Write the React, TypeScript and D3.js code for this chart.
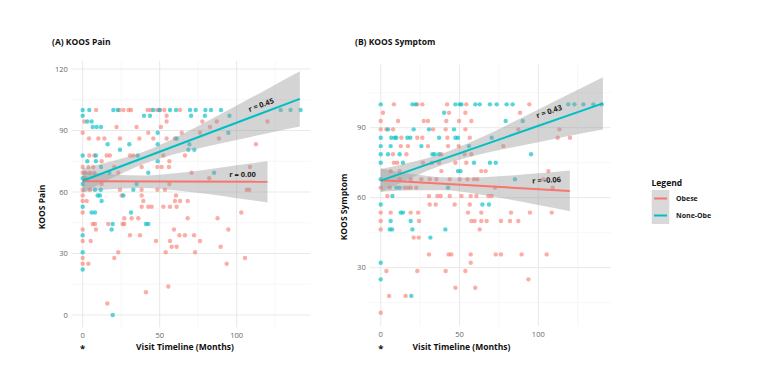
import React from 'react';
import * as d3 from 'd3';

// colours used by ggplot's default two-group palette
const OBESE = '#F8766D';
const NONOBE = '#00BFC4';

const legendLabels = ['Obese', 'None-Obe'];
const xTicks = [0, 50, 100];
const xMinor = [25, 75, 125];
const painYTicks = [0, 30, 60, 90, 120];
const painYMinor = [15, 45, 75, 105];
const symYTicks = [30, 60, 90];
const symYMinor = [15, 45, 75, 105];

// (A) KOOS Pain  [months, score]
const painObese = [
  [8.7,100],[23.8,100],[26.4,100],[29.8,100],[31.4,100],[42.2,100],[44.3,100],[48.5,100],[50.2,100],[53,100],[63.2,100],
  [54.5,97.2],
  [1.1,94.4],[54.5,94.4],[77.7,94.4],[87.1,94.4],[120,94.4],
  [22,91.7],[35,91.7],[50.8,91.7],[82.7,91.7],
  [0,88.9],[42.6,88.9],[64.3,88.9],[76.2,88.9],
  [4.1,86.1],[10.2,86.1],[14.1,86.1],[24.2,86.1],[36.8,86.1],[45.9,86.1],[54.5,86.1],[59.9,86.1],[88.5,86.1],
  [112.5,83.3],
  [4.3,77.8],[7.6,77.8],[15.6,77.8],[17.7,77.8],[30.7,77.8],[32.9,77.8],[52.4,77.8],[66.4,77.8],
  [12.3,75],[56.3,75],
  [0,72.2],[3.7,72.2],[6.9,72.2],[20.5,72.2],[38.3,72.2],[48.5,72.2],[51.3,72.2],[56,72.2],[108.6,72.2],
  [0,69.4],[1.9,69.4],[4.7,69.4],[7.6,69.4],[23.1,69.4],[70.7,69.4],
  [1.9,66.7],[82.2,66.7],
  [12.3,63.9],[56.3,63.9],
  [0,61.1],[4.7,61.1],[24.2,61.1],[38.3,61.1],[48.5,61.1],[53.4,61.1],[106.5,61.1],[108.2,61.1],
  [0,58.3],[25.3,58.3],[38.3,58.3],[60.6,58.3],
  [0,55.6],[2.6,55.6],[39.4,55.6],[59.9,55.6],[63.2,55.6],[68.2,55.6],
  [38.3,52.8],[42.6,52.8],[44.8,52.8],[52.4,52.8],[56.7,52.8],[61,52.8],
  [0,50],[103,50],
  [27,47.2],[31.8,47.2],[36.1,47.2],[68.2,47.2],[87.6,47.2],
  [6.5,44.4],[8,44.4],[16.6,44.4],[25.9,44.4],[27,44.4],
  [0,41.7],[8.6,41.7],[59.3,41.7],[94.6,41.7],
  [30.7,38.9],[37.2,38.9],[62.8,38.9],[66.4,38.9],[72.3,38.9],
  [0,36.1],[5.2,36.1],[47.6,36.1],[56.7,36.1],[76.2,36.1],
  [57.8,33.3],[61,33.3],[89.6,33.3],
  [23.1,30.6],[53.9,30.6],[73,30.6],
  [0,27.8],[20.5,27.8],[105.4,27.8],
  [0,25],[3.7,25],[93.5,25],
  [55.6,13.9],[41.1,11.1],[16,5.6],
];
const painNonObese = [
  [0,100],[4.3,100],[19.9,100],[22.7,100],[45.9,100],[49.8,100],[56.7,100],[60.6,100],[69.7,100],[73.4,100],[79.7,100],[83.3,100],[89.8,100],[128.6,100],[135,100],[141.5,100],
  [0,97.2],[39.8,97.2],[43.7,97.2],[70.4,97.2],[79.4,97.2],[95.3,97.2],
  [3,94.4],[5.8,94.4],
  [6.5,91.7],[9.1,91.7],[11.9,91.7],
  [48.7,88.9],[94.6,88.9],
  [61,86.1],
  [16.2,83.3],[30.3,83.3],[48.7,83.3],[69.3,83.3],
  [24.2,80.6],[68.6,80.6],[72.5,80.6],
  [0,77.8],[8.6,77.8],[35.7,77.8],
  [3,75],[8.6,75],[48.7,75],
  [11.9,72.2],
  [17.3,69.4],[42.6,69.4],[85.3,69.4],
  [0,66.7],
  [0,63.9],[35,63.9],
  [8,61.1],[11.7,61.1],[32.9,61.1],
  [9.7,58.3],[11.2,58.3],[26.4,58.3],
  [12.3,55.6],
  [0,52.8],
  [5.8,50],[8,50],[31.4,50],
  [19.5,44.4],[41.1,44.4],[42.6,44.4],
  [18.8,41.7],
  [0,38.9],[0,30.6],[0,22.2],[19.5,0],
];

// (B) KOOS Symptom  [months, score]
const symObese = [
  [8.4,100],[23.2,100],[26.4,100],[42.1,100],[54.3,100],[94.3,100],
  [1.4,96.4],[43.3,96.4],[53.7,96.4],[88.4,96.4],
  [0,92.9],[11,92.9],[27.3,92.9],[30,92.9],[41.6,92.9],[49.7,92.9],[57.5,92.9],
  [0,89.3],[3.6,89.3],[7.8,89.3],[33.2,89.3],[41.2,89.3],[53.7,89.3],[87.3,89.3],[113.4,89.3],
  [13.1,85.7],[23.2,85.7],[26.4,85.7],[42.3,85.7],[56.5,85.7],[112.3,85.7],[120.1,85.7],
  [12.7,82.1],[17.3,82.1],[30,82.1],[42.7,82.1],[49.5,82.1],[77.8,82.1],
  [7.8,78.6],[16.3,78.6],[38.5,78.6],[53.3,78.6],[57.5,78.6],
  [8.4,75],[10.5,75],[26.8,75],[32.5,75],[37,75],[47.4,75],[54.3,75],
  [6.3,71.4],[12,71.4],[38.5,71.4],[63.8,71.4],[66.6,71.4],[106.4,71.4],
  [12,67.9],[19,67.9],[25.8,67.9],[31.1,67.9],[35.3,67.9],[43.8,67.9],[50.1,67.9],[55,67.9],[59.2,67.9],[61.3,67.9],[103.2,67.9],
  [0,64.3],[5.7,64.3],[15.2,64.3],[17.3,64.3],[19,64.3],[22.6,64.3],[72.5,64.3],[109.1,64.3],
  [4.2,60.7],[30.6,60.7],[35.9,60.7],[38,60.7],[43.8,60.7],[51.2,60.7],[57.1,60.7],[60.7,60.7],[68.3,60.7],[70.4,60.7],
  [31.1,57.1],[34.9,57.1],[46.9,57.1],[56.5,57.1],
  [0,53.6],[6.3,53.6],[19,53.6],[23.7,53.6],[55.4,53.6],[63.8,53.6],[82.7,53.6],[94.7,53.6],[108.5,53.6],
  [0,50],[24.3,50],[57.5,50],[59.6,50],[63.8,50],[67.2,50],[76.3,50],[82,50],[87.3,50],
  [0,46.4],[62.8,46.4],
  [20.9,42.9],[24.1,42.9],
  [30.6,35.7],[43.1,35.7],[44.8,35.7],[57.1,35.7],[73,35.7],[76.3,35.7],[89.4,35.7],[105.3,35.7],
  [57.1,32.1],
  [3.6,28.6],[23.2,28.6],[41.2,28.6],[53.7,28.6],
  [93.7,25],
  [47.4,21.4],[60,21.4],
  [5.3,17.9],[15.8,17.9],
  [0,10.7],
];
const symNonObese = [
  [0,100],[20.1,100],[22.2,100],[47.4,100],[50.1,100],[51.2,100],[60,100],[62.8,100],[69.3,100],[73.6,100],[79.9,100],[83.7,100],[119,100],[122.9,100],[128.6,100],[134.9,100],[140.2,100],
  [40.2,96.4],
  [79.3,92.9],[90.1,92.9],
  [4.6,89.3],[20.9,89.3],[30.6,89.3],[46.5,89.3],
  [0,85.7],[6.7,85.7],[8.9,85.7],[9.9,85.7],[16.9,85.7],[18.8,85.7],[37,85.7],[47.4,85.7],[49,85.7],[70.4,85.7],
  [0,82.1],[6.3,82.1],[25.8,82.1],[56,82.1],
  [0,78.6],[4.6,78.6],[12,78.6],[32.8,78.6],[34.2,78.6],[37,78.6],[95.4,78.6],
  [0,75],[14.1,75],[59.2,75],[69.3,75],[73,75],
  [49,71.4],[50.7,71.4],
  [0,67.9],[85.2,67.9],
  [9.9,64.3],[12,64.3],[42.7,64.3],
  [7.4,60.7],
  [0,57.1],[64.5,57.1],[68.7,57.1],
  [12.7,53.6],[14.1,53.6],
  [6.3,50],[19,50],
  [5.7,46.4],[7.2,46.4],[20.1,46.4],[41,46.4],
  [31.5,42.9],
  [0,32.1],[0,25],[19.4,17.9],
];

// smoother bands: [months, lower, fit, upper]
const painObeseBand = [
  [0,60,65.2,70],[20,61.5,65.1,68.5],[40,62,65.1,68],[60,60.9,65,69.1],[80,59.1,65,70.9],[100,57,65,73],[120,54.9,65,75.1],
];
const painNonObeseBand = [
  [0,59.5,65.5,71.5],[20,67.2,71.2,75.2],[40,73.8,76.8,79.8],[60,78.5,82.5,86.5],[80,82.1,88.1,94.1],[100,85.4,93.8,102.2],[120,88.7,99.5,110.3],[141,91.9,105.4,118.9],
];
const symObeseBand = [
  [0,62.5,67.5,72.5],[20,63.2,66.7,70.2],[40,63.2,66,68.8],[60,61.7,65.2,68.7],[80,59.4,64.4,69.4],[100,56.9,63.7,70.5],[120,54.2,62.9,71.7],
];
const symNonObeseBand = [
  [0,62.3,67.3,72.3],[20,68.7,72,75.3],[40,74.2,76.7,79.2],[60,78.1,81.4,84.7],[80,81.1,86.1,91.1],[100,83.8,90.8,97.8],[120,86.5,95.5,104.5],[141,89.2,100.4,111.6],
];

const painR = ['r = 0.00', 'r = 0.45'];
const symR = ['r = -0.06', 'r = 0.43'];

const FONT = '"Open Sans", Lato, sans-serif';

type Pt = number[];

function Panel(props: any) {
  const { x, y, title, yLabel, yTicks, yMinor, obese, nonObese, obeseBand, nonBand, rLabels, rPos, titleX, yLabelX, xTitleX } = props;
  const [x0, x1] = x.range();
  const [yb, yt] = y.range();
  const area = d3.area<Pt>().x(d => x(d[0])).y0(d => y(d[1])).y1(d => y(d[3])).curve(d3.curveMonotoneX);
  const fitLine = (b: Pt[]) => d3.line<Pt>().x(d => x(d[0])).y(d => y(d[2]))([b[0], b[b.length - 1]]);
  return (
    <g>
      {xMinor.map(t => <line key={'xm' + t} x1={x(t)} x2={x(t)} y1={yb} y2={yt} stroke="#f2f2f2" strokeWidth={0.6} />)}
      {yMinor.filter((t: number) => y(t) <= yb && y(t) >= yt).map((t: number) => <line key={'ym' + t} x1={x0} x2={x1} y1={y(t)} y2={y(t)} stroke="#f2f2f2" strokeWidth={0.6} />)}
      {xTicks.map(t => <line key={'xg' + t} x1={x(t)} x2={x(t)} y1={yb} y2={yt} stroke="#e9e9e9" strokeWidth={1} />)}
      {yTicks.map((t: number) => <line key={'yg' + t} x1={x0} x2={x1} y1={y(t)} y2={y(t)} stroke="#e9e9e9" strokeWidth={1} />)}

      {obese.map((d: Pt, i: number) => <circle key={'o' + i} cx={x(d[0])} cy={y(d[1])} r={2.2} fill={OBESE} fillOpacity={0.6} />)}
      {nonObese.map((d: Pt, i: number) => <circle key={'n' + i} cx={x(d[0])} cy={y(d[1])} r={2.2} fill={NONOBE} fillOpacity={0.65} />)}

      <path d={area(obeseBand) || ''} fill="#999999" fillOpacity={0.42} />
      <path d={area(nonBand) || ''} fill="#999999" fillOpacity={0.42} />
      <path d={fitLine(obeseBand) || ''} fill="none" stroke={OBESE} strokeWidth={2} />
      <path d={fitLine(nonBand) || ''} fill="none" stroke={NONOBE} strokeWidth={2} />

      {rLabels.map((s: string, i: number) => (
        <text key={'r' + i} transform={`translate(${x(rPos[i][0])},${y(rPos[i][1])}) rotate(${rPos[i][2]})`}
          textAnchor="middle" dy="0.35em" fontFamily={FONT} fontSize={7.5} fontWeight={700} fill="#222">{s}</text>
      ))}

      {yTicks.map((t: number) => (
        <text key={'yt' + t} x={x0 - 4} y={y(t)} dy="0.35em" textAnchor="end" fontFamily={FONT} fontSize={7.5} fill="#666">{t}</text>
      ))}
      {xTicks.map(t => (
        <text key={'xt' + t} x={x(t)} y={yb + 11} textAnchor="middle" fontFamily={FONT} fontSize={7.5} fill="#666">{t}</text>
      ))}

      <text x={titleX} y={45} fontFamily={FONT} fontSize={8.5} fontWeight={700} fill="#111">{title}</text>
      <text transform={`translate(${yLabelX},207) rotate(-90)`} textAnchor="middle" fontFamily={FONT} fontSize={8.5} fontWeight={700} fill="#111">{yLabel}</text>
      <text x={xTitleX} y={350} textAnchor="middle" fontFamily={FONT} fontSize={8.5} fontWeight={700} fill="#111">Visit Timeline (Months)</text>
      <text x={x(0)} y={352} textAnchor="middle" fontFamily={FONT} fontSize={9.5} fontWeight={700} fill="#111">*</text>
    </g>
  );
}

export default function App() {
  const xA = d3.scaleLinear().domain([-7, 148]).range([71.9, 310.6]);
  const yA = d3.scaleLinear().domain([-6, 124]).range([327.3, 60.8]);
  const xB = d3.scaleLinear().domain([-7, 146]).range([369.7, 610.8]);
  const yB = d3.scaleLinear().domain([5, 117]).range([326, 64.7]);

  return (
    <svg width={771} height={369} style={{ position: 'absolute', left: 0, top: 0, background: '#fff' }}>
      <Panel x={xA} y={yA} title="(A) KOOS Pain" titleX={52} yLabel="KOOS Pain" yLabelX={45} xTitleX={185}
        yTicks={painYTicks} yMinor={painYMinor} obese={painObese} nonObese={painNonObese}
        obeseBand={painObeseBand} nonBand={painNonObeseBand} rLabels={painR}
        rPos={[[103.8, 68.5, 0], [115.8, 102.5, -20]]} />
      <Panel x={xB} y={yB} title="(B) KOOS Symptom" titleX={355} yLabel="KOOS Symptom" yLabelX={347} xTitleX={461.5}
        yTicks={symYTicks} yMinor={symYMinor} obese={symObese} nonObese={symNonObese}
        obeseBand={symObeseBand} nonBand={symNonObeseBand} rLabels={symR}
        rPos={[[105.2, 67.5, -3], [106.8, 97, -19]]} />

      <g fontFamily={FONT}>
        <text x={651.5} y={186} fontSize={8.5} fontWeight={700} fill="#111">Legend</text>
        <rect x={651.7} y={190} width={17.6} height={34} fill="#d9d9d9" />
        {legendLabels.map((s, i) => (
          <g key={s}>
            <line x1={654} x2={667} y1={198.5 + i * 17} y2={198.5 + i * 17} stroke={i === 0 ? OBESE : NONOBE} strokeWidth={2} />
            <text x={676} y={198.5 + i * 17} dy="0.35em" fontSize={7} fontWeight={700} fill="#222">{s}</text>
          </g>
        ))}
      </g>
    </svg>
  );
}
